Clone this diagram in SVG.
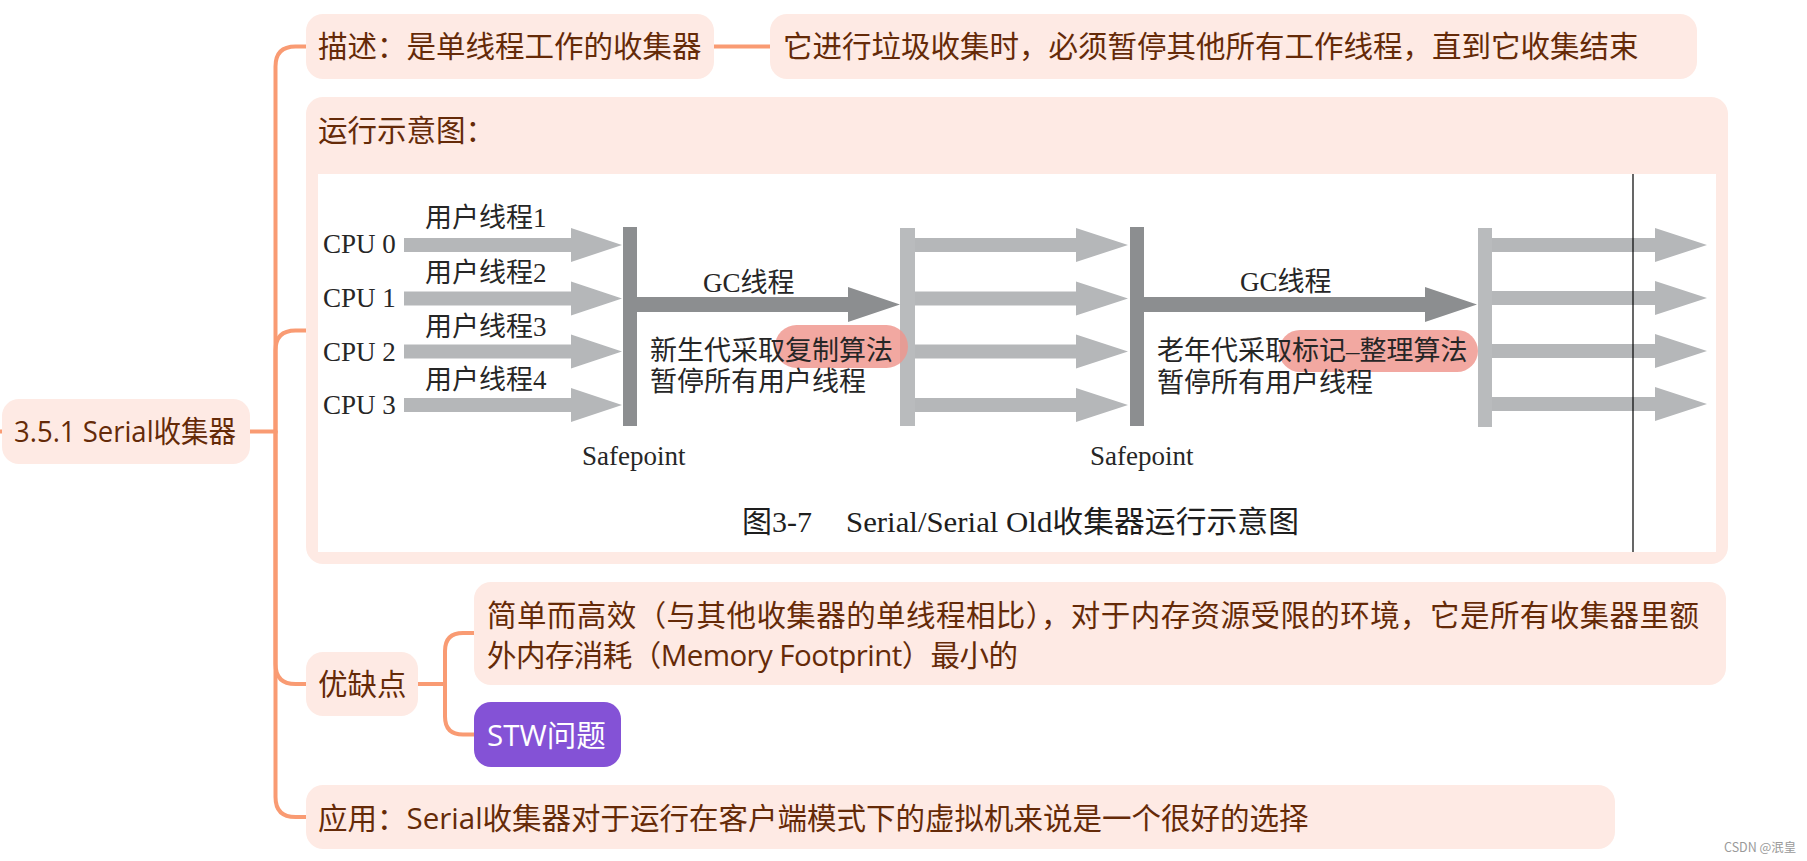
<svg xmlns="http://www.w3.org/2000/svg" width="1807" height="861" viewBox="0 0 1807 861">
<defs>
<style>
.node{fill:#feeae4}
.t{font-family:"Open Sans","Noto Sans CJK SC",sans-serif;font-size:29.5px;fill:#652a08}
.tw{font-family:"Open Sans","Noto Sans CJK SC",sans-serif;font-size:29.5px;fill:#ffffff}
.conn{fill:none;stroke:#f99b73;stroke-width:4;stroke-linecap:round}
.fig{font-family:"Liberation Serif","Noto Sans CJK SC",serif;font-size:27px;fill:#262626}
.cap{font-family:"Liberation Serif","Noto Sans CJK SC",serif;font-size:30px;fill:#1e1e1e}
.la{fill:#b5b7b9}
.lb{fill:#b9bbbd}
.dk{fill:#8c8e90}
.hl{fill:#ef958c;opacity:0.82}
</style>
<path id="a1" d="M404 238 H571 V228 L622 245 L571 262 V252 H404 Z"/>
<path id="a2" d="M915 238 H1076 V228 L1128 245 L1076 262 V252 H915 Z"/>
<path id="a3" d="M1492 238 H1655 V228 L1707 245 L1655 262 V252 H1492 Z"/>
</defs>
<rect width="1807" height="861" fill="#ffffff"/>

<g id="connectors">
<path class="conn" d="M0 431.5 H2"/>
<path class="conn" d="M250 431.5 H275.5 V66.5 Q275.5 46.5 295.5 46.5 H306"/>
<path class="conn" d="M275.5 431.5 V350.5 Q275.5 330.5 295.5 330.5 H306"/>
<path class="conn" d="M275.5 431.5 V664 Q275.5 684 295.5 684 H306"/>
<path class="conn" d="M275.5 431.5 V797 Q275.5 817 295.5 817 H306"/>
<path class="conn" d="M714 46.5 H770"/>
<path class="conn" d="M418 684 H445 V651 Q445 633 463 633 H474"/>
<path class="conn" d="M445 684 V716.5 Q445 734.5 463 734.5 H474"/>
</g>

<g id="root">
<rect class="node" x="2" y="399" width="248" height="65" rx="17"/>
<text class="t" x="14" y="442" textLength="222" lengthAdjust="spacingAndGlyphs">3.5.1 Serial收集器</text>
</g>

<g id="desc">
<rect class="node" x="306" y="14" width="408" height="65" rx="17"/>
<text class="t" x="318" y="57">描述：是单线程工作的收集器</text>
</g>

<g id="desc-detail">
<rect class="node" x="770" y="14" width="927" height="65" rx="17"/>
<text class="t" x="783" y="57">它进行垃圾收集时，必须暂停其他所有工作线程，直到它收集结束</text>
</g>

<g id="diagram-node">
<rect class="node" x="306" y="97" width="1422" height="467" rx="17"/>
<text class="t" x="318" y="141">运行示意图：</text>
<g id="figure">
<rect x="318" y="174" width="1398" height="378" fill="#ffffff"/>
<use href="#a1" class="la"/>
<use href="#a1" class="la" transform="translate(0,53.5)"/>
<use href="#a1" class="la" transform="translate(0,106.5)"/>
<use href="#a1" class="la" transform="translate(0,160)"/>
<rect class="dk" x="623" y="227" width="14" height="199"/>
<path class="dk" d="M637 297 H848 V287 L900 304.5 L848 322 V312 H637 Z"/>
<rect class="lb" x="900" y="228" width="15" height="198"/>
<use href="#a2" class="la"/>
<use href="#a2" class="la" transform="translate(0,53.5)"/>
<use href="#a2" class="la" transform="translate(0,106.5)"/>
<use href="#a2" class="la" transform="translate(0,160)"/>
<rect class="dk" x="1130" y="227" width="14" height="199"/>
<path class="dk" d="M1144 297 H1425 V287 L1477 304.5 L1425 322 V312 H1144 Z"/>
<rect class="lb" x="1478" y="228" width="14" height="199"/>
<use href="#a3" class="la"/>
<use href="#a3" class="la" transform="translate(0,53)"/>
<use href="#a3" class="la" transform="translate(0,106)"/>
<use href="#a3" class="la" transform="translate(0,159)"/>
<rect class="hl" x="775" y="325" width="133" height="43" rx="21.5"/>
<rect class="hl" x="1279" y="330" width="199" height="42" rx="21"/>
<text class="fig" x="323" y="253">CPU 0</text>
<text class="fig" x="323" y="307">CPU 1</text>
<text class="fig" x="323" y="361">CPU 2</text>
<text class="fig" x="323" y="414">CPU 3</text>
<text class="fig" x="425" y="227">用户线程1</text>
<text class="fig" x="425" y="281.5">用户线程2</text>
<text class="fig" x="425" y="336">用户线程3</text>
<text class="fig" x="425" y="389">用户线程4</text>
<text class="fig" x="703" y="292">GC线程</text>
<text class="fig" x="650" y="360">新生代采取复制算法</text>
<text class="fig" x="650" y="391">暂停所有用户线程</text>
<text class="fig" x="1240" y="291">GC线程</text>
<text class="fig" x="1157" y="360">老年代采取标记–整理算法</text>
<text class="fig" x="1157" y="392">暂停所有用户线程</text>
<text class="fig" x="582" y="465">Safepoint</text>
<text class="fig" x="1090" y="465">Safepoint</text>
<text class="cap" x="742" y="532">图3-7</text>
<text class="cap" x="846" y="532" textLength="453" lengthAdjust="spacingAndGlyphs">Serial/Serial Old收集器运行示意图</text>
<line x1="1633" y1="174" x2="1633" y2="552" stroke="#000000" stroke-width="1.2"/>
</g>
</g>

<g id="pros-cons">
<rect class="node" x="306" y="652" width="112" height="64" rx="17"/>
<text class="t" x="318" y="695">优缺点</text>
</g>

<g id="pros">
<rect class="node" x="474" y="582" width="1252" height="103" rx="17"/>
<text class="t" x="487" y="626" textLength="1212" lengthAdjust="spacing">简单而高效（与其他收集器的单线程相比），对于内存资源受限的环境，它是所有收集器里额</text>
<text class="t" x="487" y="666" textLength="531" lengthAdjust="spacing">外内存消耗（Memory Footprint）最小的</text>
</g>

<g id="stw">
<rect x="474" y="702" width="147" height="65" rx="17" fill="#8452d6"/>
<text class="tw" x="487" y="746">STW问题</text>
</g>

<g id="usage">
<rect class="node" x="306" y="785" width="1309" height="64" rx="17"/>
<text class="t" x="318" y="829">应用：Serial收集器对于运行在客户端模式下的虚拟机来说是一个很好的选择</text>
</g>

<text x="1724" y="852" font-family="'Noto Sans CJK SC',sans-serif" font-size="12.5" fill="#9a9a9a">CSDN @泯皇</text>
</svg>
